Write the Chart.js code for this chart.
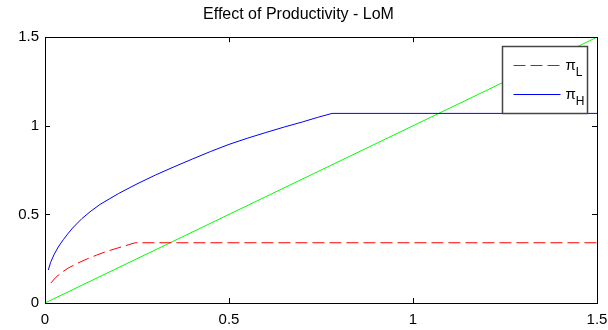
<!DOCTYPE html>
<html>
<head>
<meta charset="utf-8">
<script src="https://cdn.jsdelivr.net/npm/chart.js@4.4.1/dist/chart.umd.min.js"></script>
<style>
  html, body { margin: 0; padding: 0; background: #fff; }
  #wrap { width: 608px; height: 330px; }
</style>
</head>
<body>
<div id="wrap"><canvas id="graficoLoM"></canvas></div>
<script>
// ticks de los ejes
var xTicks = [0, 0.5, 1, 1.5];
var yTicks = [0, 0.5, 1, 1.5];

// pi_L (baja productividad)
var piLx = [0.016, 0.03, 0.045, 0.063, 0.09, 0.118, 0.14, 0.163, 0.2, 0.226, 0.245, 1.5];
var piLy = [0.113, 0.146, 0.172, 0.197, 0.226, 0.252, 0.27, 0.288, 0.312, 0.328, 0.34, 0.34];

// pi_H (alta productividad)
var piHx = [0.009, 0.015, 0.025, 0.036, 0.05, 0.063, 0.075, 0.1, 0.125, 0.15, 0.2, 0.25, 0.3, 0.35, 0.4, 0.45, 0.5, 0.55, 0.6, 0.65, 0.7, 0.74, 0.78, 1.5];
var piHy = [0.186, 0.228, 0.275, 0.316, 0.358, 0.393, 0.423, 0.476, 0.519, 0.557, 0.618, 0.672, 0.722, 0.768, 0.812, 0.855, 0.895, 0.93, 0.962, 0.993, 1.022, 1.047, 1.07, 1.07];

// recta de 45 grados
var diagX = [0, 1.5];
var diagY = [0, 1.5];

function puntos(xs, ys) {
    return xs.map(function (x, i) { return { x: x, y: ys[i] }; });
}

var fuente = 'Liberation Sans, Arial, sans-serif';

// caja del area de graficado con ticks hacia adentro (estilo MATLAB)
var cajaEjes = {
    id: 'cajaEjes',
    afterDraw: function (chart) {
        var ctx = chart.ctx, a = chart.chartArea;
        var sx = chart.scales.x, sy = chart.scales.y;
        var t = 5;
        ctx.save();
        ctx.strokeStyle = '#000';
        ctx.lineWidth = 1;
        ctx.beginPath();
        xTicks.forEach(function (v) {
            var px = Math.round(sx.getPixelForValue(v)) + 0.5;
            ctx.moveTo(px, a.bottom); ctx.lineTo(px, a.bottom - t);
            ctx.moveTo(px, a.top); ctx.lineTo(px, a.top + t);
        });
        yTicks.forEach(function (v) {
            var py = Math.round(sy.getPixelForValue(v)) + 0.5;
            ctx.moveTo(a.left, py); ctx.lineTo(a.left + t, py);
            ctx.moveTo(a.right, py); ctx.lineTo(a.right - t, py);
        });
        ctx.stroke();
        ctx.strokeRect(Math.round(a.left) + 0.5, Math.round(a.top) + 0.5,
            Math.round(a.right - a.left), Math.round(a.bottom - a.top));
        ctx.restore();
    }
};

// leyenda dentro del grafico, esquina superior derecha
var leyenda = {
    id: 'leyenda',
    afterDraw: function (chart) {
        var ctx = chart.ctx, a = chart.chartArea;
        var w = 85, h = 67;
        var x0 = Math.round(a.right - 10 - w) + 0.5, y0 = Math.round(a.top + 9) + 0.5;
        ctx.save();
        ctx.fillStyle = '#fff';
        ctx.fillRect(x0, y0, w, h);
        ctx.strokeStyle = '#444';
        ctx.lineWidth = 1.5;
        ctx.strokeRect(x0, y0, w, h);
        var fila = 0;
        chart.data.datasets.forEach(function (ds) {
            if (!ds.label) return;
            var y = Math.round(y0 + 18 + fila * 29.5) + 0.5;
            ctx.strokeStyle = ds.borderColor;
            ctx.lineWidth = 1;
            ctx.setLineDash(ds.borderDash || []);
            ctx.beginPath();
            ctx.moveTo(x0 + 11, y);
            ctx.lineTo(x0 + 58, y);
            ctx.stroke();
            ctx.setLineDash([]);
            var partes = ds.label.split('_');
            ctx.fillStyle = '#000';
            ctx.textBaseline = 'alphabetic';
            ctx.font = '15px ' + fuente;
            ctx.fillText(partes[0], x0 + 63, y + 4);
            var wb = ctx.measureText(partes[0]).width;
            ctx.font = '12px ' + fuente;
            ctx.fillText(partes[1], x0 + 63 + wb, y + 10);
            fila++;
        });
        ctx.restore();
    }
};

var ctx1 = document.getElementById('graficoLoM').getContext('2d');
var graficoLoM = new Chart(ctx1, {
    type: 'line',
    data: {
        datasets: [{
            label: 'π_L',
            data: puntos(piLx, piLy),
            borderColor: '#ff0000',
            borderDash: [12, 5],
            borderWidth: 1
        }, {
            label: 'π_H',
            data: puntos(piHx, piHy),
            borderColor: '#0000ff',
            borderWidth: 1
        }, {
            label: '',
            data: puntos(diagX, diagY),
            borderColor: '#00ff00',
            borderWidth: 1
        }]
    },
    options: {
        responsive: true,
        maintainAspectRatio: false,
        animation: false,
        layout: { padding: { left: 0, right: 11, top: 0, bottom: 0 } },
        elements: { point: { radius: 0 }, line: { tension: 0 } },
        plugins: {
            legend: { display: false },
            tooltip: { enabled: false },
            title: {
                display: true,
                text: 'Effect of Productivity - LoM',
                color: '#000',
                font: { family: fuente, size: 16, weight: 'normal' },
                padding: { top: 5, bottom: 13 }
            }
        },
        scales: {
            x: {
                type: 'linear',
                min: 0, max: 1.5,
                grid: { display: false, drawTicks: false },
                border: { display: false },
                afterBuildTicks: function (s) { s.ticks = xTicks.map(function (v) { return { value: v }; }); },
                afterFit: function (s) { s.height = 27; s.paddingLeft = 0; s.paddingRight = 0; },
                ticks: {
                    color: '#000', padding: 8, maxRotation: 0,
                    font: { family: fuente, size: 15 },
                    callback: function (v) { return String(v); }
                }
            },
            y: {
                type: 'linear',
                min: 0, max: 1.5,
                grid: { display: false, drawTicks: false },
                border: { display: false },
                afterBuildTicks: function (s) { s.ticks = yTicks.map(function (v) { return { value: v }; }); },
                afterFit: function (s) { s.width = 45; s.paddingTop = 0; s.paddingBottom = 0; },
                ticks: {
                    color: '#000', padding: 6,
                    font: { family: fuente, size: 15 },
                    callback: function (v) { return String(v); }
                }
            }
        }
    },
    plugins: [cajaEjes, leyenda]
});
</script>
</body>
</html>
